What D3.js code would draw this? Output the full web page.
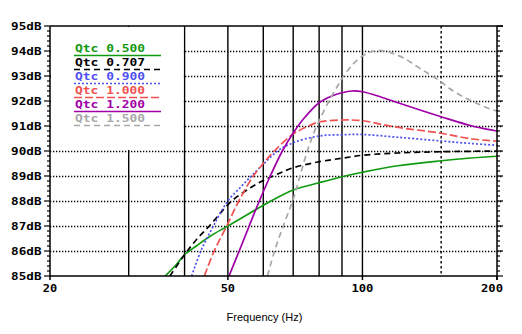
<!DOCTYPE html>
<html>
<head>
<meta charset="utf-8">
<script src="https://cdn.jsdelivr.net/npm/d3@7/dist/d3.min.js"></script>
<style>
html,body{margin:0;padding:0;background:#fff;}
svg{display:block;}
</style>
</head>
<body>
<svg id="chart" width="522" height="334"></svg>
<script>
// ---------- data ----------
const xTickLabels = [20, 50, 100, 200];
const yTickLabels = [85, 86, 87, 88, 89, 90, 91, 92, 93, 94, 95];
const gridFreqsSolid = [30, 40, 50, 60, 70, 80, 90, 100];
const gridFreqsDotted = [150];
const gridDbDotted = [86, 87, 88, 89, 90, 91, 92, 93, 94];
const seriesNames = ["Qtc 0.500", "Qtc 0.707", "Qtc 0.900", "Qtc 1.000", "Qtc 1.200", "Qtc 1.500"];

const q0500 = [[36.2,85.0],[38.4,85.47],[40,85.85],[42.5,86.2],[45.7,86.6],[50,87.0],[56.4,87.55],[62,87.97],[70,88.44],[80,88.73],[90,88.97],[100,89.15],[120,89.41],[150,89.61],[175,89.72],[200,89.79]];
const q0707 = [[37.1,85.0],[40,85.85],[42.5,86.45],[45.7,87.05],[51,88.0],[56.4,88.55],[60,88.82],[65,89.1],[70,89.33],[80,89.57],[90,89.71],[100,89.83],[120,89.92],[150,89.97],[200,90.0]];
const q0900 = [[41.5,85.0],[43.5,86.0],[46.4,87.0],[50,88.0],[53.7,88.6],[56.4,89.0],[60,89.47],[64.6,90.0],[70,90.33],[80,90.6],[90,90.65],[100,90.66],[120,90.55],[150,90.4],[175,90.3],[200,90.23]];
const q1000 = [[44.3,85.0],[46.6,86.0],[49.7,87.0],[52.9,88.0],[57,89.0],[60,89.5],[63.5,90.0],[70,90.68],[75.1,90.97],[80,91.16],[90,91.24],[100,91.21],[117.5,90.97],[150,90.71],[176,90.48],[200,90.4]];
const q1200 = [[50.3,85.0],[53.0,86.0],[55.8,87.0],[58.8,88.0],[62.2,89.0],[66.2,90.0],[70,90.72],[73.7,91.27],[80,91.93],[85.4,92.2],[90,92.33],[94.8,92.4],[100,92.37],[109.6,92.17],[121,91.91],[150,91.37],[176,91.0],[200,90.8]];
const q1500 = [[61.3,85.0],[63.6,86.0],[66.5,87.0],[70,88.07],[72.5,89.0],[75.3,90.0],[79,91.0],[84.2,92.0],[88,92.6],[90,92.9],[95,93.45],[100,93.8],[104,93.96],[108,94.02],[112,94.0],[117,93.9],[124,93.71],[132.8,93.37],[142,93.04],[150,92.77],[156.3,92.51],[168,92.17],[180,91.91],[193,91.68],[200,91.6]];

const seriesData = [q0500, q0707, q0900, q1000, q1200, q1500];
const seriesColors = ["#109a10", "#000000", "#5050f0", "#f05050", "#a000a8", "#a8a8a8"];
const seriesDash = [null, "6,4", "2,2", "8,3", null, "6,4"];

// ---------- layout ----------
const svg = d3.select("#chart");
const L = 50, R = 497, T = 26, B = 276;
const x = d3.scaleLog().domain([20, 200]).range([L, R]);
const y = d3.scaleLinear().domain([85, 95]).range([B, T]);
const monoFont = "'DejaVu Sans Mono', 'Liberation Mono', monospace";

// grid
const grid = svg.append("g");
grid.selectAll("line.hd").data(gridDbDotted).join("line")
  .attr("x1", L).attr("x2", R + 5).attr("y1", d => y(d) + 0.5).attr("y2", d => y(d) + 0.5)
  .attr("stroke", "#000").attr("stroke-width", 1.3).attr("stroke-dasharray", "1.3,1.7");
grid.selectAll("line.vs").data(gridFreqsSolid).join("line")
  .attr("x1", d => x(d)).attr("x2", d => x(d)).attr("y1", T).attr("y2", B)
  .attr("stroke", "#000").attr("stroke-width", 1.4);
grid.selectAll("line.vd").data(gridFreqsDotted).join("line")
  .attr("x1", d => x(d)).attr("x2", d => x(d)).attr("y1", T).attr("y2", B - 2)
  .attr("stroke", "#000").attr("stroke-width", 1.4).attr("stroke-dasharray", "2.5,2.5");

// legend background
svg.append("rect").attr("x", L + 1).attr("y", T + 1)
  .attr("width", x(40) - L - 2).attr("height", y(90) - T - 2).attr("fill", "#fff");

// curves
svg.append("clipPath").attr("id", "plotclip").append("rect")
  .attr("x", L).attr("y", T).attr("width", R - L).attr("height", B - T);
const line = d3.line().x(d => x(d[0])).y(d => y(d[1])).curve(d3.curveCatmullRom.alpha(0.5));
const curves = svg.append("g").attr("clip-path", "url(#plotclip)");
seriesData.forEach((s, i) => {
  curves.append("path").attr("d", line(s)).attr("fill", "none")
    .attr("stroke", seriesColors[i]).attr("stroke-width", 1.7)
    .attr("stroke-dasharray", seriesDash[i]);
});

// axes frame
const axes = svg.append("g").attr("stroke", "#000").attr("stroke-width", 1.5);
axes.append("line").attr("x1", L).attr("x2", R + 6).attr("y1", T).attr("y2", T);
axes.append("line").attr("x1", L).attr("x2", R).attr("y1", B).attr("y2", B);
axes.append("line").attr("x1", L).attr("x2", L).attr("y1", T).attr("y2", B);
axes.append("line").attr("x1", R).attr("x2", R).attr("y1", T).attr("y2", B + 4);

// y minor/major ticks
const minorTicks = d3.range(85, 95.001, 0.2);
minorTicks.forEach(v => {
  const major = Math.abs(v - Math.round(v)) < 1e-6;
  const len = major ? 6 : 3;
  axes.append("line").attr("x1", L - len).attr("x2", L).attr("y1", y(v)).attr("y2", y(v)).attr("stroke-width", 1.2);
  axes.append("line").attr("x1", R).attr("x2", R + len).attr("y1", y(v)).attr("y2", y(v)).attr("stroke-width", 1.2);
});
// x ticks
xTickLabels.forEach(v => {
  axes.append("line").attr("x1", x(v)).attr("x2", x(v)).attr("y1", B).attr("y2", B + 4);
});

// y labels
svg.append("g").selectAll("text").data(yTickLabels).join("text")
  .attr("x", 41.5).attr("y", d => y(d) + 3.6).attr("text-anchor", "end")
  .attr("font-family", monoFont).attr("font-weight", "bold").attr("font-size", 10)
  .attr("textLength", d => (d + "dB").length * 7.8 - 0.8).attr("lengthAdjust", "spacingAndGlyphs")
  .text(d => d + "dB");

// x labels
svg.append("g").selectAll("text").data(xTickLabels).join("text")
  .attr("x", (d, i) => i === xTickLabels.length - 1 ? x(d) + 6 : x(d))
  .attr("y", 292).attr("text-anchor", (d, i) => i === xTickLabels.length - 1 ? "end" : "middle")
  .attr("font-family", monoFont).attr("font-weight", "bold").attr("font-size", 10)
  .attr("textLength", d => String(d).length * 7.6 - 0.8).attr("lengthAdjust", "spacingAndGlyphs")
  .text(d => d);

svg.append("text").attr("x", 264.5).attr("y", 321).attr("text-anchor", "middle")
  .attr("font-family", "'Liberation Sans', Arial, sans-serif").attr("font-size", 11)
  .text("Frequency (Hz)");

// legend
const leg = svg.append("g");
seriesNames.forEach((n, i) => {
  const by = 52 + i * 14;
  leg.append("text").attr("x", 75).attr("y", by).attr("fill", seriesColors[i])
    .attr("font-family", monoFont).attr("font-weight", "bold").attr("font-size", 10)
    .attr("textLength", n.length * 7.9 - 1).attr("lengthAdjust", "spacingAndGlyphs")
    .text(n);
  leg.append("line").attr("x1", 74).attr("x2", 161).attr("y1", by + 3.5).attr("y2", by + 3.5)
    .attr("stroke", seriesColors[i]).attr("stroke-width", 1.7)
    .attr("stroke-dasharray", seriesDash[i]);
});
</script>
</body>
</html>
